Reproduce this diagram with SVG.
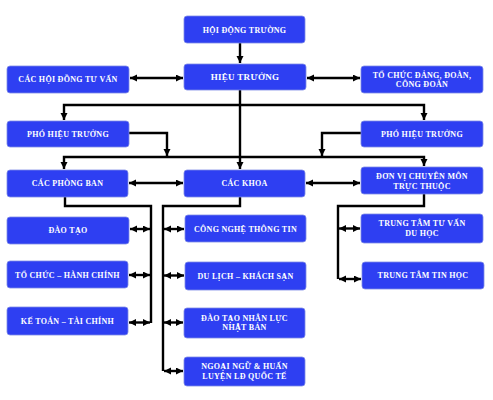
<svg xmlns="http://www.w3.org/2000/svg" width="493" height="400" viewBox="0 0 493 400">
<style>
.box{fill:#2e3ff2;stroke:#7f8ce6;stroke-width:0.8}
.t{font-family:"Liberation Serif","Times New Roman",serif;font-weight:bold;font-size:8px;fill:#ffffff;text-anchor:middle;letter-spacing:0.3px}
.big{font-size:9px}
.c{fill:none;stroke:#000;stroke-width:2.4}
.a{marker-end:url(#ah)}
.b{marker-start:url(#ah);marker-end:url(#ah)}
</style>
<defs>
<marker id="ah" markerUnits="userSpaceOnUse" markerWidth="8" markerHeight="8" refX="7" refY="3.5" orient="auto-start-reverse">
<path d="M0,0 L7,3.5 L0,7 z" fill="#000"/>
</marker>
</defs>
<rect width="493" height="400" fill="#fff"/>
<g id="connectors">
<path class="c a" d="M240,43 V63"/>
<path class="c b" d="M130,78 H183"/>
<path class="c b" d="M307,78 H360"/>
<path class="c a" d="M240,90 V169"/>
<path class="c b" d="M64,120 V105 H424 V120"/>
<path class="c a" d="M129,133 H167 V156"/>
<path class="c a" d="M361,133 H322 V156"/>
<path class="c b" d="M64,169 V157 H424 V166"/>
<path class="c b" d="M129,183 H183"/>
<path class="c b" d="M306,183 H360"/>
<path class="c" d="M65,197 V206 H151 V323"/>
<path class="c b" d="M130,229 H150"/>
<path class="c b" d="M129,275 H150"/>
<path class="c b" d="M129,322.5 H150"/>
<path class="c" d="M240,197 V206 H163 V371"/>
<path class="c b" d="M164,229 H184"/>
<path class="c b" d="M164,275.5 H184"/>
<path class="c b" d="M164,322.5 H183"/>
<path class="c b" d="M164,371 H183"/>
<path class="c" d="M424,194 V206 H338 V279"/>
<path class="c b" d="M339,228.5 H360"/>
<path class="c b" d="M339,279 H361"/>
</g>
<g id="hoi-dong-truong"><rect class="box" x="184" y="16" width="121" height="27" rx="3"/><text class="t" x="244.5" y="32.5">HỘI ĐỘNG TRƯỜNG</text></g>
<g id="hieu-truong"><rect class="box" x="184" y="64" width="122" height="26" rx="3"/><text class="t big" x="245" y="80">HIỆU TRƯỞNG</text></g>
<g id="cac-hoi-dong-tu-van"><rect class="box" x="7" y="66" width="122" height="27" rx="3"/><text class="t" x="68" y="82">CÁC HỘI ĐỒNG TƯ VẤN</text></g>
<g id="to-chuc-dang"><rect class="box" x="361" y="66" width="122" height="27" rx="3"/><text class="t" x="422" y="78">TỔ CHỨC ĐẢNG, ĐOÀN,</text><text class="t" x="422" y="87">CÔNG ĐOÀN</text></g>
<g id="pho-hieu-truong-1"><rect class="box" x="7" y="121" width="122" height="26" rx="3"/><text class="t" x="68" y="136.5">PHÓ HIỆU TRƯỞNG</text></g>
<g id="pho-hieu-truong-2"><rect class="box" x="361" y="121" width="122" height="26" rx="3"/><text class="t" x="422" y="136.5">PHÓ HIỆU TRƯỞNG</text></g>
<g id="cac-phong-ban"><rect class="box" x="7" y="170" width="121" height="27" rx="3"/><text class="t" x="67.5" y="186">CÁC PHÒNG BAN</text></g>
<g id="cac-khoa"><rect class="box" x="184" y="170" width="121" height="27" rx="3"/><text class="t" x="244.5" y="186">CÁC KHOA</text></g>
<g id="don-vi"><rect class="box" x="361" y="167" width="122" height="27" rx="3"/><text class="t" x="422" y="179">ĐƠN VỊ CHUYÊN MÔN</text><text class="t" x="422" y="189">TRỰC THUỘC</text></g>
<g id="dao-tao"><rect class="box" x="7" y="217" width="122" height="27" rx="3"/><text class="t" x="68" y="233">ĐÀO TẠO</text></g>
<g id="to-chuc-hanh-chinh"><rect class="box" x="7" y="261" width="121" height="27" rx="3"/><text class="t" x="67.5" y="277.5">TỔ CHỨC – HÀNH CHÍNH</text></g>
<g id="ke-toan"><rect class="box" x="7" y="307" width="121" height="28" rx="3"/><text class="t" x="67.5" y="324">KẾ TOÁN – TÀI CHÍNH</text></g>
<g id="cntt"><rect class="box" x="185" y="215" width="121" height="27" rx="3"/><text class="t" x="245.5" y="232">CÔNG NGHỆ THÔNG TIN</text></g>
<g id="du-lich"><rect class="box" x="185" y="262" width="121" height="28" rx="3"/><text class="t" x="245.5" y="279">DU LỊCH – KHÁCH SẠN</text></g>
<g id="dao-tao-nhat-ban"><rect class="box" x="184" y="308" width="121" height="30" rx="3"/><text class="t" x="244.5" y="321">ĐÀO TẠO NHÂN LỰC</text><text class="t" x="244.5" y="330">NHẬT BẢN</text></g>
<g id="ngoai-ngu"><rect class="box" x="184" y="357" width="121" height="29" rx="3"/><text class="t" x="244.5" y="369">NGOẠI NGỮ &amp; HUẤN</text><text class="t" x="244.5" y="379">LUYỆN LĐ QUỐC TẾ</text></g>
<g id="tt-tu-van"><rect class="box" x="361" y="214" width="122" height="29" rx="3"/><text class="t" x="422" y="226">TRUNG TÂM TƯ VẤN</text><text class="t" x="422" y="236">DU HỌC</text></g>
<g id="tt-tin-hoc"><rect class="box" x="362" y="262" width="122" height="27" rx="3"/><text class="t" x="423" y="278">TRUNG TÂM TIN HỌC</text></g>
</svg>
